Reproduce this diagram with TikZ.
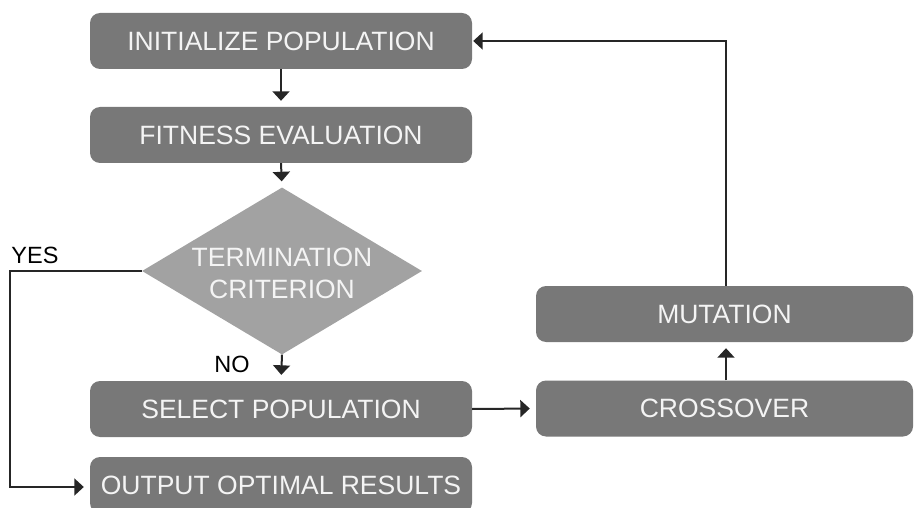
\documentclass[tikz,border=0pt]{standalone}
\usepackage{fontspec}
\setmainfont{Liberation Sans}
\usetikzlibrary{shapes.geometric,arrows.meta}
\definecolor{boxgray}{HTML}{787878}
\definecolor{diagray}{HTML}{A2A2A2}
\definecolor{linecol}{HTML}{262626}
\definecolor{txtwhite}{HTML}{F4F4F4}
\tikzset{
  stepbox/.style={rectangle, rounded corners=10pt, fill=boxgray, draw=none,
    minimum width=382pt, minimum height=56pt, inner sep=0pt,
    text=txtwhite, font=\fontsize{26.5}{30}\selectfont},
  sidebox/.style={stepbox, minimum width=377pt},
  decision/.style={diamond, fill=diagray, draw=none, minimum width=280pt,
    minimum height=167pt, inner sep=0pt},
  conn/.style={draw=linecol, line width=2pt,
    -{Triangle[width=17pt,length=9.5pt]}, shorten >=6pt},
  lbl/.style={text=black, font=\fontsize{23.5}{26}\selectfont, inner sep=0pt}
}
\begin{document}
\begin{tikzpicture}[x=1pt,y=-1pt]
\useasboundingbox (0,0) rectangle (914,508);
\node[stepbox] (init) at (281,41) {INITIALIZE POPULATION};
\node[stepbox] (fit) at (281,135) {FITNESS EVALUATION};
\node[decision] (crit) at (282,271) {};
\node[text=txtwhite, align=center, font=\fontsize{26.5}{32}\selectfont, inner sep=0pt] (crittext) at (282,273) {TERMINATION\\CRITERION};
\node[stepbox] (sel) at (281,409) {SELECT POPULATION};
\node[stepbox] (out) at (281,485) {OUTPUT OPTIMAL RESULTS};
\node[sidebox] (cross) at (724.5,408.5) {CROSSOVER};
\node[sidebox] (mut) at (724.5,314) {MUTATION};
\node[lbl] (yes) at (35,255) {YES};
\node[lbl] (no) at (232,364) {NO};
\coordinate (yc1) at (10,271);
\coordinate (yc2) at (10,487);
\coordinate (mc) at (726,41);
\draw[conn] (init.south) -- (fit.north);
\draw[conn] (fit.south) -- (crit.north);
\draw[conn] (crit.south) -- (sel.north);
\draw[conn] (sel.east) -- (cross.west);
\draw[conn] (cross.north -| mc) -- (mut.south -| mc);
\draw[conn, shorten >=1pt] (mut.north -| mc) -- (mc) -- (init.east);
\draw[conn] (crit.west) -- (yc1) -- (yc2) -- (out.west |- yc2);
\end{tikzpicture}
\end{document}
